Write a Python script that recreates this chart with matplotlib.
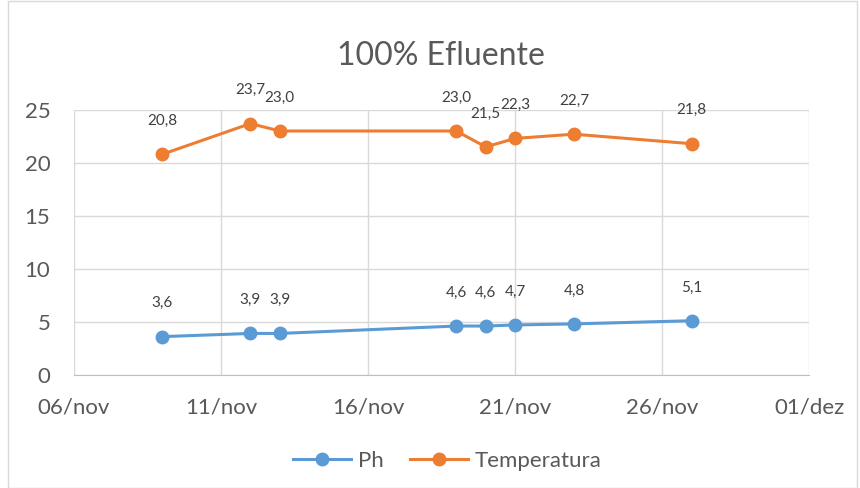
import matplotlib
matplotlib.use("Agg")
from matplotlib import pyplot as plt
import numpy as np

datas = ["2023-11-09", "2023-11-12", "2023-11-13", "2023-11-19",
         "2023-11-20", "2023-11-21", "2023-11-23", "2023-11-27"]
ph = [3.6, 3.9, 3.9, 4.6, 4.6, 4.7, 4.8, 5.1]
temperatura = [20.8, 23.7, 23.0, 23.0, 21.5, 22.3, 22.7, 21.8]
xticks = ["2023-11-06", "2023-11-11", "2023-11-16", "2023-11-21", "2023-11-26", "2023-12-01"]
xtick_labels = ["06/nov", "11/nov", "16/nov", "21/nov", "26/nov", "01/dez"]

x = np.array(datas, dtype="datetime64[D]")
xt = np.array(xticks, dtype="datetime64[D]")

plt.rcParams['font.family'] = ['Lato', 'DejaVu Sans']
cinza = '#595959'
azul = '#5B9BD5'
laranja = '#ED7D31'

fig = plt.figure(figsize=(8.6, 4.88), dpi=100)
ax = fig.add_axes([0.086, 0.232, 0.855, 0.543])

# moldura do grafico
fig.patches.append(plt.Rectangle((0.009, 0.0), 0.988, 0.998, transform=fig.transFigure,
                                 fill=False, edgecolor='#D9D9D9', lw=1))

ax.plot(x, ph, color=azul, lw=2.2, marker='o', ms=9, label='Ph', zorder=3)
ax.plot(x, temperatura, color=laranja, lw=2.2, marker='o', ms=9, label='Temperatura', zorder=3)

for serie in (ph, temperatura):
    for xi, v in zip(x, serie):
        ax.annotate(f"{v:.1f}".replace('.', ','), (xi, v), xytext=(0, 24), textcoords='offset points',
                    ha='center', va='center', fontsize=11, color='#404040')

ax.set_xlim(xt[0], xt[-1])
ax.set_ylim(0, 25)
ax.set_xticks(xt)
ax.set_xticklabels(xtick_labels)
ax.set_yticks([0, 5, 10, 15, 20, 25])
ax.tick_params(axis='both', length=0, labelsize=16, labelcolor=cinza)
ax.tick_params(axis='x', pad=16)
ax.tick_params(axis='y', pad=17)
ax.grid(True, color='#D9D9D9', lw=1)
ax.set_axisbelow(True)
for s in ['top', 'right', 'left']:
    ax.spines[s].set_visible(False)
ax.spines['bottom'].set_color('#BFBFBF')

fig.suptitle('100% Efluente', x=0.513, y=0.885, va='center', fontsize=23, color=cinza)
fig.legend(loc='center', bbox_to_anchor=(0.52, 0.055), ncol=2, frameon=False,
           fontsize=16, labelcolor=cinza, handlelength=2.6, columnspacing=1.2, handletextpad=0.3)

plt.savefig('out.png', dpi=100)
